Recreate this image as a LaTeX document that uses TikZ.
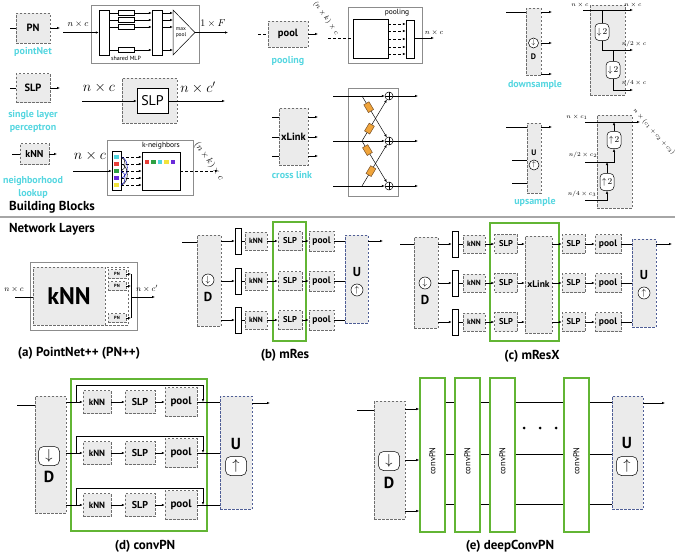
\documentclass[tikz,border=0pt]{standalone}
\usepackage{fontspec}
\setmainfont{PT Sans}
\usetikzlibrary{arrows.meta}
\usetikzlibrary{positioning}
\definecolor{boxgray}{HTML}{EBEBEB}
\definecolor{dashgray}{HTML}{6E6E6E}
\definecolor{frgray}{HTML}{8C8C8C}
\definecolor{lblcyan}{HTML}{55D6E0}
\definecolor{netgreen}{HTML}{62B534}
\definecolor{upblue}{HTML}{4F5E96}
\definecolor{fcorange}{HTML}{F0A43A}
\definecolor{ptcyan}{HTML}{4FD3DD}
\definecolor{ptred}{HTML}{E8403A}
\definecolor{ptgreen}{HTML}{2EA043}
\definecolor{ptviolet}{HTML}{6A2BD9}
\definecolor{ptyellow}{HTML}{F2E33C}
\newcommand{\fsz}[1]{\fontsize{#1}{#1}\selectfont}
\tikzset{blk/.style = {draw=dashgray, dash pattern=on 2.5pt off 1.5pt, fill=boxgray, inner sep=0}}
\tikzset{ublk/.style = {blk, draw=upblue}}
\tikzset{sz/.style 2 args = {minimum width=#1, minimum height=#2}}
\tikzset{frm/.style = {draw=frgray, fill=white, inner sep=0}}
\tikzset{bar/.style = {draw, fill=white, inner sep=0}}
\tikzset{grn/.style = {draw=netgreen, line width=1.6pt, inner sep=0}}
\tikzset{cyn/.style = {text=lblcyan, font=\bfseries\fontsize{10}{13}\selectfont, align=center}}
\tikzset{ttl/.style = {font=\bfseries\fsz{13}}}
\tikzset{rnd/.style = {draw, fill=white, rounded corners=5pt, inner sep=0}}
\tikzset{ring/.style = {draw, circle, fill=white, inner sep=0}}
\tikzset{sq/.style = {inner sep=0, minimum size=4.5pt}}
\tikzset{oplus/.style = {draw, circle, fill=white, inner sep=0, minimum size=8pt,
    path picture={\draw (path picture bounding box.north) -- (path picture bounding box.south)
      (path picture bounding box.west) -- (path picture bounding box.east);}}}
\tikzset{fc/.style = {draw=brown!60!black, fill=fcorange, sloped, inner sep=0, minimum width=9pt, minimum height=6pt}}
\tikzset{ellip/.style = {circle, fill, inner sep=0, minimum size=3pt}}
\begin{document}
\begin{tikzpicture}[x=1pt, y=-1pt, line width=0.5pt, >={Latex[length=3pt,width=2.4pt]}]
  \useasboundingbox (0,0) rectangle (675,554);

  % building blocks: pointNet
  \node [blk, sz={34pt}{30pt}, font=\bfseries\fsz{10.5}] (pn) at (33,28) {PN};
  \coordinate (pnIn) at (10,28);
  \coordinate (pnOut) at (60,28);
  \draw (pnIn) -- (pn);
  \draw [->] (pn) -- (pnOut);
  \node [cyn] (pnName) at (33,52) {pointNet};

  \node [frm, sz={108pt}{58pt}] (pnFrm) at (145,34) {};
  \node [bar, sz={10pt}{45pt}] (pnBarA) at (104,32.5) {};
  \node [bar, sz={10pt}{45pt}] (pnBarB) at (157,32.5) {};
  \coordinate (mpTop) at (173,10);
  \coordinate (mpApex) at (195,32.5);
  \coordinate (mpBot) at (173,55);
  \draw (mpTop) -- (mpApex) -- (mpBot) -- cycle;
  \node [align=center, font=\fontsize{5.5}{6.5}\selectfont] (maxPoolTxt) at (181,32.5) {max\\pool};
  \foreach \y [count=\i] in {13,20,27,50} {
    \node [bar, sz={16pt}{5pt}] (mlp\i) at (126,\y) {};
    \draw (mlp\i.west -| pnBarA.east) -- (mlp\i.west);
    \draw [->] (mlp\i.east) -- (mlp\i.east -| pnBarB.west);
    \draw [->] (mlp\i.east -| pnBarB.east) -- (mlp\i.east -| mpTop);
  }
  \node [font=\fsz{6}] (mlpTxt) at (126,58.5) {shared MLP};
  \coordinate (pnDin) at (63,32.5);
  \coordinate (pnDout) at (228,32.5);
  \draw [->] (pnDin) -- (pnBarA);
  \draw [->] (mpApex) -- (pnDout);
  \node [font=\small] (pnDinLbl) at (78,24) {$n\times c$};
  \node (pnDoutLbl) at (213,24) {$1\times F$};

  % building blocks: SLP
  \node [blk, sz={34pt}{29pt}, font=\bfseries\fsz{10.5}] (slp) at (33,88) {SLP};
  \coordinate (slpIn) at (10,88);
  \coordinate (slpOut) at (60,88);
  \draw (slpIn) -- (slp);
  \draw [->] (slp) -- (slpOut);
  \node [cyn] (slpName) at (33,121.5) {single layer\\perceptron};

  \node [blk, sz={55pt}{45pt}] (slpBig) at (149.5,100.5) {};
  \node [bar, sz={31pt}{25pt}, font=\fsz{14}] (slpCore) at (152.5,101) {SLP};
  \coordinate (slpCoreIn) at (82,101);
  \coordinate (slpCoreOut) at (225,101);
  \draw [->] (slpCoreIn) -- (slpCore);
  \draw [->] (slpCore) -- (slpCoreOut);
  \node [font=\Large] (slpInLbl) at (99,88) {$n\times c$};
  \node [font=\Large] (slpOutLbl) at (198,88) {$n\times c'$};

  % building blocks: kNN
  \node [blk, sz={29pt}{21pt}, font=\bfseries\fsz{10}] (knn) at (34.5,154) {kNN};
  \coordinate (knnIn) at (12,154);
  \coordinate (knnOut) at (57,154);
  \draw (knnIn) -- (knn);
  \draw [->] (knn) -- (knnOut);
  \node [cyn] (knnName) at (33,187.5) {neighborhood\\lookup};

  \node [frm, sz={86pt}{55pt}] (knnFrm) at (150,167.5) {};
  \node [bar, sz={9pt}{39pt}] (knnBar) at (116.5,170.5) {};
  \node [bar, sz={38pt}{38pt}] (knnNb) at (161,171) {};
  \node [font=\fsz{7.5}] (knnNbTxt) at (161,146) {k-neighbors};
  \foreach \y/\c [count=\i] in {157/ptcyan, 164/ptred, 171/ptgreen, 178/ptviolet, 185/ptyellow} {
    \node [sq, fill=\c] (pt\i) at (116.5,\y) {};
    \draw [->, densely dashed] (pt\i -| knnBar.east) -- (pt\i -| knnNb.west);
  }
  \draw [blue!70!black] (pt1 -| knnBar.east) to [bend left=80] (pt4 -| knnBar.east);
  \draw (pt2 -| knnBar.east) to [bend left=80] (pt5 -| knnBar.east);
  \draw (pt1 -| knnBar.east) to [bend left=70] (pt3 -| knnBar.east);
  \draw [blue!70!black] (pt3 -| knnBar.east) to [bend left=70] (pt5 -| knnBar.east);
  \foreach \x/\c [count=\i] in {147/ptred, 153.5/ptgreen, 160/ptcyan, 166.5/ptyellow, 173/ptviolet} {
    \node [sq, fill=\c] (nb\i) at (\x,162) {};
  }
  \coordinate (knnDin) at (73,171);
  \coordinate (knnDout) at (218,171);
  \draw [->] (knnDin) -- (knnDin -| knnBar.west);
  \draw [->, densely dashed] (knnNb.east |- knnDout) -- (knnDout);
  \node [font=\Large] (knnInLbl) at (90,156) {$n\times c$};
  \node [font=\small, rotate=-55] (knnOutLbl) at (209,161) {$(n\times k)\times c$};

  \node [ttl] (bbTitle) at (52,207) {Building Blocks};
  \coordinate (sepL) at (0,217);
  \coordinate (sepR) at (675,217);
  \draw [gray!70, line width=2pt] (sepL) -- (sepR);

  % building blocks: pooling
  \node [blk, sz={40pt}{26pt}, font=\bfseries\fsz{10.5}] (pool) at (288,34) {pool};
  \coordinate (poolIn) at (258,34);
  \coordinate (poolOut) at (318,34);
  \draw [densely dashed] (poolIn) -- (pool);
  \draw [->] (pool) -- (poolOut);
  \node [cyn] (poolName) at (288,61) {pooling};

  \node [frm, sz={74pt}{56pt}] (poolFrm) at (385,35) {};
  \node [font=\fsz{7.5}] (poolFrmTxt) at (397,13) {pooling};
  \node [bar, sz={35pt}{39pt}] (poolSq) at (370.5,38.5) {};
  \node [bar, sz={8pt}{38pt}] (poolBar) at (410,39) {};
  \foreach \y [count=\i] in {24,31,39,47,54} {
    \coordinate (poolRow\i) at (0,\y);
    \draw [->, densely dashed] (poolSq.east |- poolRow\i) -- (poolBar.west |- poolRow\i);
  }
  \coordinate (poolDin) at (328,38);
  \coordinate (poolDout) at (434,38);
  \draw [densely dashed] (poolDin) -- (poolDin -| poolSq.west);
  \draw [->] (poolBar.east |- poolDout) -- (poolDout);
  \node [font=\fsz{7}] (poolOutLbl) at (434,33) {$n\times c$};
  \node [font=\fsz{7}, rotate=-55] (poolInLbl) at (326,18) {$(n\times k)\times c$};

  % building blocks: cross link
  \node [blk, sz={29pt}{57pt}, font=\bfseries\fsz{10.5}] (xl) at (293.5,136.5) {xLink};
  \foreach \y [count=\i] in {117,137,156} {
    \coordinate (xlIn\i) at (272,\y);
    \coordinate (xlOut\i) at (318,\y);
    \draw (xlIn\i) -- (xlIn\i -| xl.west);
    \draw [->] (xlOut\i -| xl.east) -- (xlOut\i);
  }
  \node [cyn] (xlName) at (292,175) {cross link};

  \node [frm, sz={50pt}{108pt}] (xFrm) at (373,142) {};
  \foreach \y [count=\i] in {96,141,186} {
    \node [oplus] (xc\i) at (389,\y) {};
    \coordinate (xIn\i) at (333,\y);
    \coordinate (xs\i) at (362,\y);
    \coordinate (xOut\i) at (418,\y);
    \draw [->] (xIn\i) -- (xc\i);
    \draw [->] (xc\i) -- (xOut\i);
  }
  \draw [->] (xs1) -- node [fc, pos=0.27] (fcA) {} (xc2);
  \draw [->] (xs2) -- node [fc, pos=0.3] (fcB) {} (xc1);
  \draw [->] (xs2) -- node [fc, pos=0.22] (fcC) {} (xc3);
  \draw [->] (xs3) -- node [fc, pos=0.36] (fcD) {} (xc2);

  % building blocks: downsample
  \node [blk, sz={15pt}{67pt}] (dsBlk) at (533.5,41.5) {};
  \node [ring, minimum size=10pt, font=\fsz{7}] (dsRing) at (533.5,43) {$\downarrow$};
  \node [font=\bfseries\fsz{8}] (dsD) at (533.5,56.5) {D};
  \coordinate (dsIn) at (506,12);
  \draw (dsIn) -- (dsIn -| dsBlk.west);
  \foreach \y [count=\i] in {12,43,74} {
    \coordinate (dsOut\i) at (552,\y);
    \draw [->] (dsOut\i -| dsBlk.east) -- (dsOut\i);
  }
  \node [cyn] (dsName) at (535,85) {downsample};

  \node [blk, sz={35pt}{90pt}] (dsBig) at (607.5,50) {};
  \node [rnd, sz={14pt}{17pt}, rounded corners=4pt, font=\fsz{9}] (dsHalfA) at (602,32) {$\downarrow\!2$};
  \node [rnd, sz={14pt}{17pt}, rounded corners=4pt, font=\fsz{9}] (dsHalfB) at (613,70) {$\downarrow\!2$};
  \coordinate (dsTopL) at (583,10);
  \coordinate (dsTopR) at (633,10);
  \coordinate (dsTapA) at (602,10);
  \coordinate (dsMidL) at (602,50);
  \coordinate (dsTapB) at (613,50);
  \coordinate (dsMidR) at (633,50);
  \coordinate (dsBotL) at (613,90);
  \coordinate (dsBotR) at (633,90);
  \draw [->] (dsTopL) -- (dsTopR);
  \draw (dsTapA) -- (dsHalfA);
  \draw [->] (dsHalfA) -- (dsMidL) -- (dsMidR);
  \draw (dsTapB) -- (dsHalfB);
  \draw [->] (dsHalfB) -- (dsBotL) -- (dsBotR);
  \node [font=\fsz{6}] (dsLblA) at (580,5) {$n\times c$};
  \node [font=\fsz{6}] (dsLblB) at (633,5) {$n\times c$};
  \node [font=\fsz{6}] (dsLblC) at (634,44) {$n/2\times c$};
  \node [font=\fsz{6}] (dsLblD) at (634,83) {$n/4\times c$};

  % building blocks: upsample
  \node [blk, sz={14pt}{70pt}] (usBlk) at (534,158) {};
  \node [font=\bfseries\fsz{8}] (usU) at (534,153) {U};
  \node [ring, minimum size=10pt, font=\fsz{7}] (usRing) at (534,165) {$\uparrow$};
  \coordinate (usIn) at (506,127);
  \coordinate (usOut) at (552,127);
  \draw (usIn) -- (usIn -| usBlk.west);
  \draw [->] (usBlk.east |- usOut) -- (usOut);
  \foreach \y [count=\i] in {160,183} {
    \coordinate (usSide\i) at (512,\y);
    \draw (usSide\i) -- (usSide\i -| usBlk.west);
  }
  \node [cyn] (usName) at (535,202) {upsample};

  \node [blk, sz={35pt}{93pt}] (usBig) at (614.5,161.5) {};
  \node [rnd, sz={14pt}{17pt}, rounded corners=4pt, font=\fsz{9}] (usTwoA) at (614,140) {$\uparrow\!2$};
  \node [rnd, sz={14pt}{17pt}, rounded corners=4pt, font=\fsz{9}] (usTwoB) at (607,182) {$\uparrow\!2$};
  \coordinate (usTopL) at (585,122);
  \coordinate (usTopR) at (640,122);
  \coordinate (usTapA) at (614,122);
  \coordinate (usMidL) at (585,162);
  \coordinate (usMidA) at (614,162);
  \coordinate (usMidB) at (607,162);
  \coordinate (usBotL) at (585,200);
  \coordinate (usBotB) at (607,200);
  \draw [->] (usTopL) -- (usTopR);
  \draw [->] (usTwoA) -- (usTapA);
  \draw [->] (usMidL) -- (usMidA) -- (usTwoA);
  \draw [->] (usTwoB) -- (usMidB);
  \draw [->] (usBotL) -- (usBotB) -- (usTwoB);
  \node [font=\fsz{6}] (usLblA) at (577,117) {$n\times c_1$};
  \node [font=\fsz{6}] (usLblB) at (583,155) {$n/2\times c_2$};
  \node [font=\fsz{6}] (usLblC) at (582,194) {$n/4\times c_3$};
  \node [font=\fsz{6}, rotate=-48] (usLblD) at (654,132) {$n\times(c_1+c_2+c_3)$};

  % network layers
  \node [ttl] (nlTitle) at (52,229) {Network Layers};

  % (a) PointNet++
  \node [frm, sz={107pt}{68pt}] (aFrm) at (83.5,296) {};
  \node [blk, fill=white, sz={95pt}{58pt}] (aOuter) at (80.5,296) {};
  \node [blk, sz={72pt}{58pt}, font=\bfseries\fsz{24}] (aKnn) at (69,296) {kNN};
  \foreach \y [count=\i] in {274,286,318} {
    \node [blk, sz={18pt}{9pt}, font=\bfseries\fsz{4.5}] (aPn\i) at (117,\y) {PN};
    \coordinate (aJoin\i) at (131,\y);
    \draw [->] (aPn\i) -- (aJoin\i);
  }
  \draw (aJoin1) -- (aJoin3);
  \coordinate (aIn) at (15,297);
  \coordinate (aOut) at (155,297);
  \draw (aIn) -- (aIn -| aOuter.west);
  \draw [->] (aJoin1 |- aOut) -- (aOut);
  \node [font=\fsz{8}] (aInLbl) at (14,289) {$n\times c$};
  \node [font=\fsz{8}] (aOutLbl) at (147,289) {$n\times c'$};
  \node [ttl] (aCap) at (79,353) {(a) PointNet++ (PN++)};

  % (b) mRes
  \node [blk, sz={24pt}{91pt}] (bD) at (209,280.5) {};
  \node [ring, minimum size=12pt, font=\fsz{9}] (bDr) at (208,280) {$\downarrow$};
  \node [font=\bfseries\fsz{13}] (bDl) at (208,297) {D};
  \node [ublk, sz={23pt}{88pt}] (bU) at (356.5,279) {};
  \node [font=\bfseries\fsz{13}] (bUl) at (357,272) {U};
  \node [ring, minimum size=12pt, font=\fsz{9}] (bUr) at (357,290) {$\uparrow$};
  \node [grn, sz={33pt}{119pt}] (bGrn) at (289.5,281.5) {};
  \coordinate (bIn) at (182,242);
  \coordinate (bOut) at (383,241);
  \draw (bIn) -- (bIn -| bD.west);
  \draw [->] (bU.east |- bOut) -- (bOut);
  \foreach \y [count=\i] in {241,281,320} {
    \node [bar, sz={6pt}{26pt}] (bBar\i) at (238,\y) {};
    \node [blk, sz={22pt}{18pt}, font=\bfseries\fsz{7.5}] (bKnn\i) at (256,\y) {kNN};
    \node [blk, sz={24pt}{19pt}, font=\bfseries\fsz{8.5}] (bSlp\i) at (290,\y) {SLP};
    \node [blk, sz={25pt}{20pt}, font=\bfseries\fsz{9.5}] (bPool\i) at (321.5,\y) {pool};
    \draw [->] (bD.east |- bBar\i) -- (bBar\i);
    \draw (bBar\i) -- (bKnn\i);
    \draw [->] (bKnn\i) -- (bSlp\i);
    \draw [->] (bSlp\i) -- (bPool\i);
    \draw (bPool\i) -- (bU.west |- bPool\i);
  }
  \node [ttl] (bCap) at (285,355) {(b) mRes};

  % (c) mResX
  \node [blk, sz={24pt}{91pt}] (cD) at (426,282.5) {};
  \node [ring, minimum size=12pt, font=\fsz{9}] (cDr) at (425,283) {$\downarrow$};
  \node [font=\bfseries\fsz{13}] (cDl) at (425,300) {D};
  \node [ublk, sz={24pt}{88pt}] (cU) at (644,283) {};
  \node [font=\bfseries\fsz{13}] (cUl) at (644,275) {U};
  \node [ring, minimum size=12pt, font=\fsz{9}] (cUr) at (644,293) {$\uparrow$};
  \node [grn, sz={69pt}{118pt}] (cGrn) at (524.5,282) {};
  \node [blk, sz={27pt}{97pt}, font=\bfseries\fsz{9.5}] (cX) at (538.5,284.5) {xLink};
  \coordinate (cIn) at (400,244);
  \coordinate (cOut) at (672,244);
  \draw (cIn) -- (cIn -| cD.west);
  \draw [->] (cU.east |- cOut) -- (cOut);
  \foreach \y [count=\i] in {244,283,322} {
    \node [bar, sz={6pt}{26pt}] (cBar\i) at (455,\y) {};
    \node [blk, sz={22pt}{18pt}, font=\bfseries\fsz{7.5}] (cKnn\i) at (474,\y) {kNN};
    \node [blk, sz={23pt}{19pt}, font=\bfseries\fsz{8.5}] (cSlp\i) at (506,\y) {SLP};
    \node [blk, sz={23pt}{19pt}, font=\bfseries\fsz{8.5}] (cSlpB\i) at (573.5,\y) {SLP};
    \node [blk, sz={26pt}{19pt}, font=\bfseries\fsz{9.5}] (cPool\i) at (608,\y) {pool};
    \draw [->] (cD.east |- cBar\i) -- (cBar\i);
    \draw (cBar\i) -- (cKnn\i);
    \draw [->] (cKnn\i) -- (cSlp\i);
    \draw [->] (cSlp\i) -- (cSlp\i -| cX.west);
    \draw [->] (cX.east |- cSlpB\i) -- (cSlpB\i);
    \draw [->] (cSlpB\i) -- (cPool\i);
    \draw (cPool\i) -- (cU.west |- cPool\i);
  }
  \node [ttl] (cCap) at (532,356) {(c) mResX};

  % (d) convPN
  \node [blk, sz={31pt}{117pt}] (dD) at (50.5,454.5) {};
  \node [rnd, sz={21pt}{19pt}, font=\fsz{14}] (dDr) at (49,456) {$\downarrow$};
  \node [font=\bfseries\fsz{16}] (dDl) at (49,477) {D};
  \node [ublk, sz={32pt}{113pt}] (dU) at (236,452.5) {};
  \node [font=\bfseries\fsz{16}] (dUl) at (236,444) {U};
  \node [rnd, sz={21pt}{19pt}, font=\fsz{14}] (dUr) at (236,466) {$\uparrow$};
  \node [grn, sz={136pt}{152pt}] (dGrn) at (139,455) {};
  \coordinate (dIn) at (17,405);
  \coordinate (dOut) at (270,403);
  \draw (dIn) -- (dIn -| dD.west);
  \draw [->] (dU.east |- dOut) -- (dOut);
  \foreach \y [count=\i] in {402,453,505} {
    \node [blk, sz={28pt}{23pt}, font=\bfseries\fsz{9}] (dKnn\i) at (97,\y) {kNN};
    \node [blk, sz={30pt}{23pt}, font=\bfseries\fsz{10}] (dSlp\i) at (140,\y) {SLP};
    \node [blk, sz={32pt}{29pt}, font=\bfseries\fsz{11}] (dPool\i) at (181,\y) {pool};
    \coordinate (dBr\i) at (76,\y);
    \coordinate (dTop\i) at (76,{\y-17});
    \coordinate (dEnd\i) at (203,\y);
    \draw (dD.east |- dBr\i) -- (dBr\i);
    \draw [->] (dBr\i) -- (dKnn\i);
    \draw [->] (dKnn\i) -- (dSlp\i);
    \draw [->] (dSlp\i) -- (dPool\i);
    \draw [->] (dBr\i) -- (dTop\i) -| (dEnd\i);
    \draw (dPool\i) -- (dU.west |- dPool\i);
  }
  \node [ttl] (dCap) at (145,546) {(d) convPN};

  % (e) deepConvPN
  \node [blk, sz={31pt}{118pt}] (eD) at (389.5,460) {};
  \node [rnd, sz={21pt}{19pt}, font=\fsz{14}] (eDr) at (389,461) {$\downarrow$};
  \node [font=\bfseries\fsz{16}] (eDl) at (389,483) {D};
  \node [ublk, sz={31pt}{113pt}] (eU) at (627.5,452.5) {};
  \node [font=\bfseries\fsz{16}] (eUl) at (627,443) {U};
  \node [rnd, sz={21pt}{19pt}, font=\fsz{14}] (eUr) at (627,466) {$\uparrow$};
  \foreach \x [count=\i] in {432.5,467.5,502.5,576.5} {
    \node [grn, sz={25pt}{154pt}] (eConv\i) at (\x,455) {};
    \node [rotate=90, font=\fsz{8.5}] (eConvTxt\i) at (\x,461) {convPN};
  }
  \foreach \y [count=\i] in {409,460,511} {
    \coordinate (eIn\i) at (0,\y);
    \draw [->] (eD.east |- eIn\i) -- (eConv1.west |- eIn\i);
  }
  \foreach \y [count=\i] in {402,454,504} {
    \coordinate (eRow\i) at (0,\y);
    \draw (eConv1.east |- eRow\i) -- (eConv2.west |- eRow\i);
    \draw (eConv2.east |- eRow\i) -- (eConv3.west |- eRow\i);
    \draw (eConv3.east |- eRow\i) -- (eConv4.west |- eRow\i);
    \draw (eConv4.east |- eRow\i) -- (eU.west |- eRow\i);
  }
  \foreach \x [count=\i] in {524,540,556} {
    \node [ellip] (eDot\i) at (\x,428) {};
  }
  \coordinate (eIn) at (357,410);
  \coordinate (eOut) at (665,403);
  \draw (eIn) -- (eIn -| eD.west);
  \draw [->] (eU.east |- eOut) -- (eOut);
  \node [ttl] (eCap) at (510,546) {(e) deepConvPN};
\end{tikzpicture}
\end{document}
